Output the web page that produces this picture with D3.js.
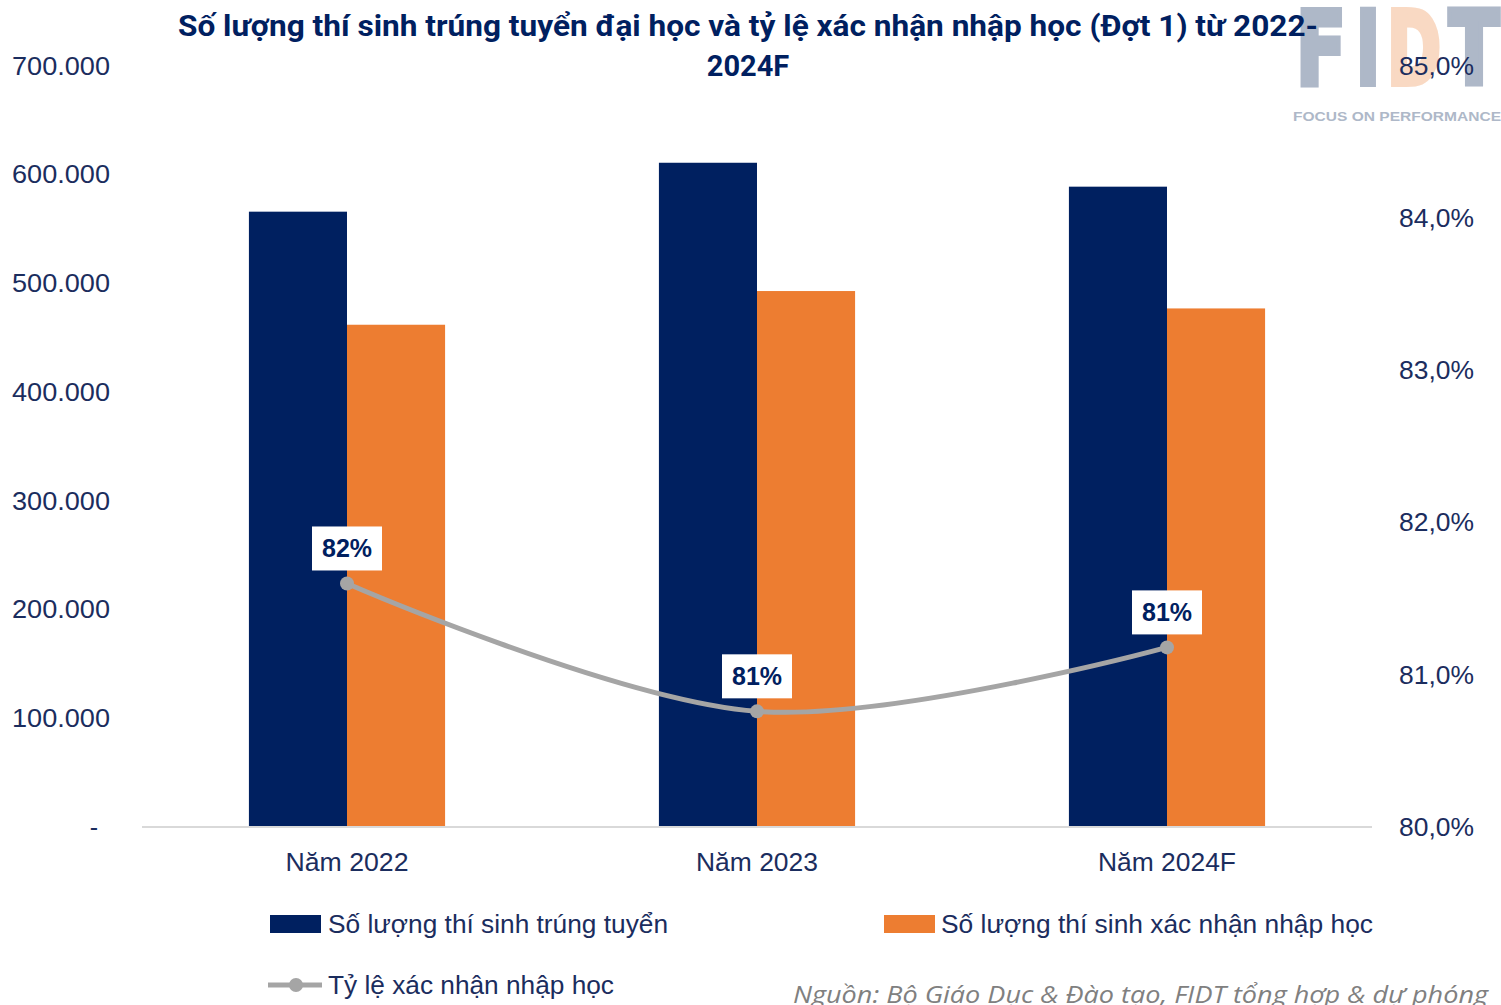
<!DOCTYPE html>
<html><head><meta charset="utf-8">
<script src="https://cdn.jsdelivr.net/npm/d3@7"></script>
<style>body{margin:0;background:#fff;} svg{display:block;}</style>
</head><body>
<svg id="chart" width="1501" height="1005"></svg>
<script>
const categories = ["Năm 2022", "Năm 2023", "Năm 2024F"];
const seriesNames = ["Số lượng thí sinh trúng tuyển", "Số lượng thí sinh xác nhận nhập học"];
const admitted = [566000, 611000, 589000];
const confirmed = [462000, 493000, 477000];
const rateNames = ["Tỷ lệ xác nhận nhập học"];
const rate = [81.60, 80.76, 81.18];
const rateLabels = ["82%", "81%", "81%"];
const leftTicks = [0, 100000, 200000, 300000, 400000, 500000, 600000, 700000];
const rightTicks = [80, 81, 82, 83, 84, 85];
const titleLines = ["Số lượng thí sinh trúng tuyển đại học và tỷ lệ xác nhận nhập học (Đợt 1) từ 2022-", "2024F"];
const sourceText = "Nguồn: Bộ Giáo Dục & Đào tạo, FIDT tổng hợp & dự phóng";

const navy = "#002060", orange = "#ED7D31", gray = "#A5A5A5", textCol = "#1b2d5e";
const font = "Liberation Sans, Arial, sans-serif";
const svg = d3.select("#chart");
const plot = {left: 142, right: 1372, top: 66, bottom: 827};

// logo watermark
const logo = svg.append("g").attr("font-family", "DejaVu Sans, sans-serif").attr("font-weight", "bold");
const logoLetters = [{t:"F", x:1296, w:50, c:"#aeb8c8"}, {t:"I", x:1356, w:24, c:"#aeb8c8"}, {t:"D", x:1387, w:54, c:"#f9d9c3"}, {t:"T", x:1449, w:50, c:"#aeb8c8"}];
logo.selectAll("text.l").data(logoLetters).join("text").attr("class","l")
  .attr("x", d => d.x).attr("y", 84).attr("font-size", 102).attr("fill", d => d.c)
  .attr("stroke", d => d.c).attr("stroke-width", 6).attr("stroke-linejoin", "miter")
  .attr("textLength", d => d.w).attr("lengthAdjust", "spacingAndGlyphs").text(d => d.t);
logo.append("text").attr("x", 1293).attr("y", 121).attr("font-size", 13.5).attr("fill", "#aeb8c8")
  .attr("font-family", font).attr("textLength", 208).attr("lengthAdjust", "spacingAndGlyphs").text("FOCUS ON PERFORMANCE");

const x0 = d3.scaleBand().domain(categories).range([plot.left, plot.right]).padding(0);
const x1 = d3.scaleBand().domain(seriesNames).range([0, x0.bandwidth()]).paddingInner(0).paddingOuter(1.09);
const yL = d3.scaleLinear().domain([0, 700000]).range([plot.bottom, plot.top]);
const yR = d3.scaleLinear().domain([80, 85]).range([plot.bottom, plot.top]);

// axes labels
const fmtL = v => v === 0 ? "-" : d3.format(",")(v).replace(/,/g, ".");
svg.append("g").selectAll("text").data(leftTicks).join("text")
  .attr("x", d => d === 0 ? 94 : 12).attr("y", d => yL(d)).attr("dy", "0.35em")
  .attr("text-anchor", d => d === 0 ? "middle" : "start")
  .attr("font-family", font).attr("font-size", 25).attr("fill", textCol)
  .each(function(d){ if (d !== 0) d3.select(this).attr("textLength", 98).attr("lengthAdjust", "spacingAndGlyphs"); })
  .text(fmtL);
svg.append("g").selectAll("text").data(rightTicks).join("text")
  .attr("x", 1399).attr("y", d => yR(d)).attr("dy", "0.35em")
  .attr("font-family", font).attr("font-size", 25).attr("fill", textCol)
  .attr("textLength", 75).attr("lengthAdjust", "spacingAndGlyphs")
  .text(d => d.toFixed(1).replace(".", ",") + "%");

// bars
const barData = categories.map((c, i) => [{c, s: seriesNames[0], v: admitted[i], col: navy}, {c, s: seriesNames[1], v: confirmed[i], col: orange}]).flat();
svg.append("g").selectAll("rect").data(barData).join("rect")
  .attr("x", d => x0(d.c) + x1(d.s)).attr("width", x1.bandwidth())
  .attr("y", d => yL(d.v)).attr("height", d => yL(0) - yL(d.v)).attr("fill", d => d.col);

// baseline
svg.append("line").attr("x1", plot.left).attr("x2", plot.right).attr("y1", plot.bottom).attr("y2", plot.bottom)
  .attr("stroke", "#d9d9d9").attr("stroke-width", 2);

// category labels
const catW = [123, 122, 138];
svg.append("g").selectAll("text").data(categories).join("text")
  .attr("x", d => x0(d) + x0.bandwidth()/2).attr("y", 871).attr("text-anchor", "middle")
  .attr("font-family", font).attr("font-size", 25).attr("fill", textCol)
  .attr("textLength", (d, i) => catW[i]).attr("lengthAdjust", "spacingAndGlyphs").text(d => d);

// line
const pts = categories.map((c, i) => [x0(c) + x0.bandwidth()/2, yR(rate[i])]);
svg.append("path").attr("d", d3.line().curve(d3.curveCatmullRom.alpha(0.5))(pts))
  .attr("fill", "none").attr("stroke", gray).attr("stroke-width", 5);
svg.append("g").selectAll("circle").data(pts).join("circle")
  .attr("cx", d => d[0]).attr("cy", d => d[1]).attr("r", 7).attr("fill", gray);

// labels
const lab = svg.append("g").selectAll("g").data(pts).join("g")
  .attr("transform", d => `translate(${d[0]},${d[1] - 35})`);
lab.append("rect").attr("x", -35).attr("y", -22).attr("width", 70).attr("height", 44).attr("fill", "#fff");
lab.append("text").attr("text-anchor", "middle").attr("dy", "0.35em")
  .attr("font-family", font).attr("font-weight", "bold")
  .attr("font-size", 25).attr("fill", navy).text((d, i) => rateLabels[i]);

// title
svg.append("g").selectAll("text").data(titleLines).join("text")
  .attr("x", 748).attr("y", (d, i) => 36 + i * 40).attr("text-anchor", "middle")
  .attr("font-family", "Roboto, sans-serif").attr("font-weight", "bold").attr("font-size", 29)
  .attr("fill", navy)
  .each(function(d, i){ if (i === 0) d3.select(this).attr("textLength", 1140).attr("lengthAdjust", "spacingAndGlyphs"); })
  .text(d => d);

// legend
const leg = svg.append("g").attr("font-family", font).attr("font-size", 25).attr("fill", textCol);
leg.append("rect").attr("x", 270).attr("y", 915).attr("width", 51).attr("height", 18).attr("fill", navy);
leg.append("text").attr("x", 328).attr("y", 924).attr("dy", "0.35em")
  .attr("textLength", 340).attr("lengthAdjust", "spacingAndGlyphs").text(seriesNames[0]);
leg.append("rect").attr("x", 884).attr("y", 915).attr("width", 51).attr("height", 18).attr("fill", orange);
leg.append("text").attr("x", 941).attr("y", 924).attr("dy", "0.35em")
  .attr("textLength", 432).attr("lengthAdjust", "spacingAndGlyphs").text(seriesNames[1]);
leg.append("line").attr("x1", 268).attr("x2", 322).attr("y1", 985).attr("y2", 985).attr("stroke", gray).attr("stroke-width", 5);
leg.append("circle").attr("cx", 296).attr("cy", 985).attr("r", 7).attr("fill", gray);
leg.append("text").attr("x", 328).attr("y", 985).attr("dy", "0.35em")
  .attr("textLength", 286).attr("lengthAdjust", "spacingAndGlyphs").text(rateNames[0]);

// source
svg.append("text").attr("x", 793).attr("y", 1003)
  .attr("font-family", "Open Sans, sans-serif").attr("font-style", "italic").attr("font-size", 24)
  .attr("fill", "#808080").attr("textLength", 695).attr("lengthAdjust", "spacingAndGlyphs").text(sourceText);
</script>
</body></html>
